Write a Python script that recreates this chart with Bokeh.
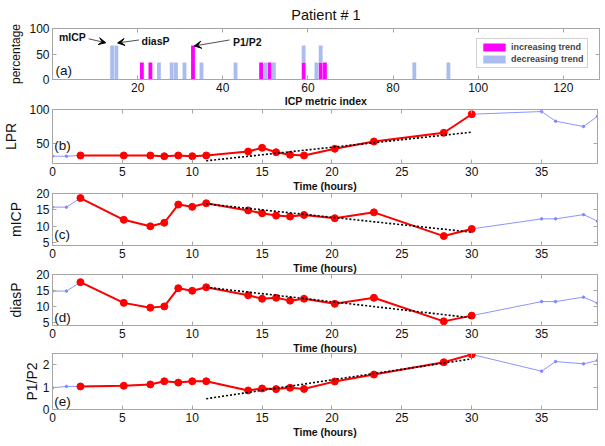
from bokeh.plotting import figure
from bokeh.layouts import column
from bokeh.models import (LinearAxis, FixedTicker, Range1d, Label, Arrow, VeeHead,
                          ColumnDataSource)
from bokeh.embed import file_html
from bokeh.resources import INLINE

# ---------------- data ----------------
# panel (a): percentage of metrics with a trend, per ICP metric index
metric_index = [14, 15, 21, 23, 25, 28, 29, 31, 33, 35, 43, 49, 50, 51, 52, 59, 62, 63, 64, 85, 93]
pct_increasing = [0, 0, 33.3, 33.3, 0, 0, 0, 0, 66.7, 0, 0, 33.3, 0, 33.3, 0, 33.3, 0, 33.3, 33.3, 0, 0]
pct_decreasing = [66.7, 66.7, 0, 0, 33.3, 33.3, 33.3, 33.3, 0, 33.3, 33.3, 0, 33.3, 0, 33.3, 33.3, 33.3, 33.3, 0, 33.3, 33.3]
bar_series = ["increasing trend", "decreasing trend"]

# panels (b)-(e): hourly metrics
hours = [0, 1, 2, 5.1, 7, 8, 9, 10, 11, 14, 15, 16, 17, 18, 20.2, 23, 28, 30, 35, 36, 38, 39]
lpr = [30.8, 30.8, 31.9, 31.9, 31.9, 30.8, 31.9, 30.8, 31.9, 37.8, 43.3, 36.7, 32.9, 31.9, 41.8, 52.6, 65.5, 93, 97, 82.7, 74.8, 90]
micp = [15.8, 15.8, 18.6, 11.9, 9.9, 11.0, 16.6, 15.9, 17.0, 14.8, 13.9, 13.2, 12.9, 13.4, 12.4, 14.2, 6.9, 9.1, 12.2, 12.2, 13.5, 11.5]
diasp = [14.8, 14.8, 17.6, 11.1, 9.6, 10.0, 15.7, 14.9, 16.0, 13.5, 12.4, 12.7, 11.8, 12.4, 10.8, 12.7, 5.3, 7.1, 11.5, 11.5, 12.9, 11.0]
p1p2 = [0.97, 1.03, 1.03, 1.06, 1.12, 1.26, 1.2, 1.26, 1.26, 0.85, 0.94, 0.91, 0.97, 0.92, 1.25, 1.56, 2.11, 2.46, 1.71, 2.14, 2.04, 2.19]

window_start, window_end = 2, 30          # analysed (red) segment
trend_hours = [11, 30]
trend_lpr = [24.0, 66.4]
trend_micp = [16.8, 8.1]
trend_diasp = [16.0, 6.4]
trend_p1p2 = [0.48, 2.26]

# ---------------- style ----------------
FONT = "Liberation Sans"
GREY = "#a6a6a6"
RED = "#ff0000"
BLUE = "#8088ff"
MAGENTA = "#ff00ff"
LIGHTBLUE = "#aabdee"


def style_axis(ax, ticks, labels=True):
    ax.ticker = FixedTicker(ticks=ticks)
    ax.axis_line_color = GREY
    ax.major_tick_line_color = GREY
    ax.major_tick_in = 4
    ax.major_tick_out = 0
    ax.minor_tick_line_color = None
    ax.major_label_text_font = FONT
    if labels:
        ax.major_label_text_font_size = "12px"
        ax.major_label_text_color = "#111111"
        ax.major_label_standoff = 3
    else:
        ax.major_label_text_font_size = "1px"
        ax.major_label_text_color = None
        ax.major_label_standoff = 0
    ax.axis_label_text_font = FONT
    ax.axis_label_text_color = "#111111"


def make_fig(xr, yr, xticks, yticks, width, left, top, frame_h, bottom, margin_top=0, title=None):
    kw = dict(title=title) if title else {}
    p = figure(width=width, height=top + frame_h + bottom, x_range=Range1d(*xr), y_range=Range1d(*yr),
               output_backend="svg", toolbar_location=None,
               min_border_left=left, min_border_right=1, min_border_top=top, min_border_bottom=bottom,
               margin=(margin_top, 0, 0, 0), **kw)
    p.grid.visible = False
    p.outline_line_color = GREY
    p.background_fill_color = "white"
    p.border_fill_color = None
    style_axis(p.below[0], xticks)
    style_axis(p.left[0], yticks)
    top_ax = LinearAxis()
    style_axis(top_ax, xticks, labels=False)
    p.add_layout(top_ax, "above")
    right_ax = LinearAxis()
    style_axis(right_ax, yticks, labels=False)
    p.add_layout(right_ax, "right")
    return p


def set_xlabel(p, s, standoff):
    ax = p.below[0]
    ax.axis_label = s
    ax.axis_label_text_font_size = "10.5px"
    ax.axis_label_text_font_style = "bold"
    ax.axis_label_standoff = standoff


def set_ylabel(p, s, size, standoff):
    ax = p.left[0]
    ax.axis_label = s
    ax.axis_label_text_font_size = size
    ax.axis_label_text_font_style = "normal"
    ax.axis_label_standoff = standoff


def text(p, s, x, y, size="12px", bold=False):
    p.add_layout(Label(x=x, y=y, text=s, text_font=FONT, text_font_size=size,
                       text_font_style="bold" if bold else "normal",
                       text_align="left", text_baseline="middle", text_color="#111111"))


# ---------------- panel (a) ----------------
pa = make_fig((0, 128.5), (0, 100), [20, 40, 60, 80, 100, 120], [0, 50, 100],
              width=600, left=52, top=28, frame_h=51, bottom=33, title="Patient # 1")
pa.title.align = "center"
pa.title.vertical_align = "middle"
pa.title.text_font = FONT
pa.title.text_font_size = "14.5px"
pa.title.text_font_style = "normal"
pa.title.text_color = "#111111"
pa.title.standoff = 10
set_xlabel(pa, "ICP metric index", 0)
set_ylabel(pa, "percentage", "12px", 3)

src = ColumnDataSource(dict(idx=metric_index, inc=pct_increasing, dec=pct_decreasing))
pa.vbar_stack(["inc", "dec"], x="idx", width=0.9, source=src,
              color=[MAGENTA, LIGHTBLUE], line_color=None, legend_label=bar_series)
lg = pa.legend[0]
lg.location = (424, 11)
lg.label_text_font = FONT
lg.label_text_font_size = "9px"
lg.label_text_font_style = "bold"
lg.glyph_width = 28
lg.glyph_height = 10
lg.label_height = 10
lg.spacing = 2
lg.padding = 3
lg.margin = 0
lg.label_standoff = 3
lg.border_line_color = GREY
lg.background_fill_alpha = 1

text(pa, "(a)", 0.7, 17.6, size="13.5px")
text(pa, "mICP", 1.5, 83.9, size="10.5px", bold=True)
text(pa, "diasP", 20.9, 75.5, size="10.5px", bold=True)
text(pa, "P1/P2", 42.4, 73.5, size="10.5px", bold=True)
for xs, ys, xe, ye in [(8.5, 79.8, 12.5, 72), (20.3, 77.5, 15.3, 71.6), (41.6, 77.5, 33.3, 65.7)]:
    pa.add_layout(Arrow(end=VeeHead(size=7, fill_color="black", line_color="black"),
                        x_start=xs, y_start=ys, x_end=xe, y_end=ye,
                        line_color="#222222", line_width=0.8))

# ---------------- panels (b)-(e) ----------------
time_ticks = [0, 5, 10, 15, 20, 25, 30, 35]
sel = [i for i, t in enumerate(hours) if window_start <= t <= window_end]


def series_panel(values, trend, yr, yticks, top, frame_h, bottom, margin_top):
    p = make_fig((0, 39), yr, time_ticks, yticks, width=598, left=50, top=top, frame_h=frame_h,
                 bottom=bottom, margin_top=margin_top)
    p.line(hours, values, line_color=BLUE, line_width=0.9)
    p.scatter(hours, values, size=2.5, color=BLUE)
    rx = [hours[i] for i in sel]
    ry = [values[i] for i in sel]
    p.line(rx, ry, line_color=RED, line_width=2)
    p.scatter(rx, ry, size=7, color=RED)
    p.line(trend_hours, trend, line_color="black", line_width=1.6, line_dash="2 2")
    set_xlabel(p, "Time (hours)", 1)
    return p


pb = series_panel(lpr, trend_lpr, (20, 100), [50, 100], top=13, frame_h=54, bottom=33, margin_top=-16)
set_ylabel(pb, "LPR", "14px", 7)
text(pb, "(b)", 0.12, 46.7, size="13.5px")

pc = series_panel(micp, trend_micp, (4, 20), [5, 10, 15, 20], top=13, frame_h=52, bottom=33, margin_top=-16)
set_ylabel(pc, "mICP", "14px", 9)
text(pc, "(c)", 0.12, 7.3, size="13.5px")

pd_ = series_panel(diasp, trend_diasp, (4, 20), [5, 10, 15, 20], top=12, frame_h=51, bottom=33, margin_top=-16)
set_ylabel(pd_, "diasP", "14px", 9)
text(pd_, "(d)", 0.12, 6.4, size="13.5px")

pe = series_panel(p1p2, trend_p1p2, (0, 2.5), [0, 1, 2], top=10, frame_h=56, bottom=35, margin_top=-15)
set_ylabel(pe, "P1/P2", "14px", 0)
text(pe, "(e)", 0.12, 0.37, size="13.5px")

layout = column(pa, pb, pc, pd_, pe, spacing=0)
open("out.html", "w").write(file_html(layout, INLINE))
